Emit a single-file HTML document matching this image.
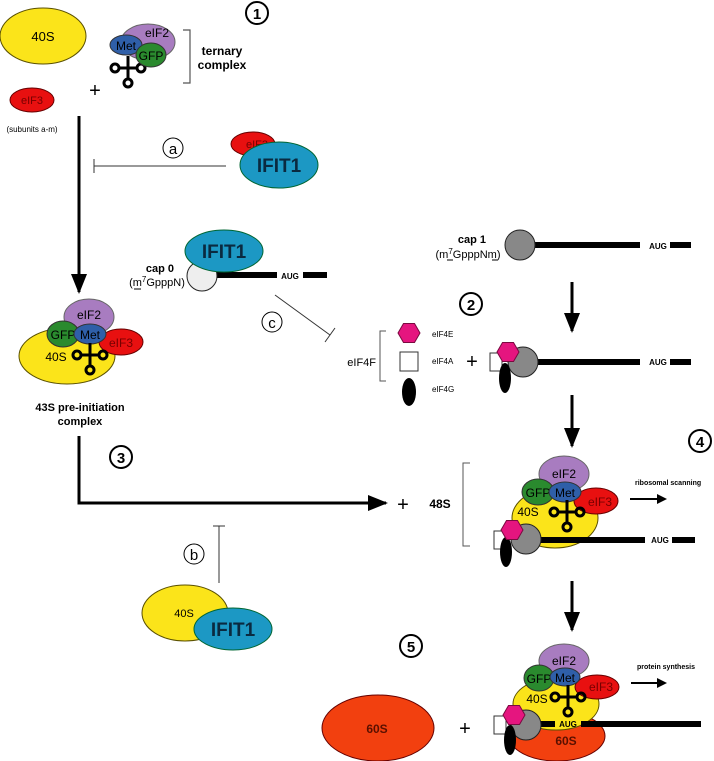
<!DOCTYPE html>
<html><head><meta charset="utf-8"><style>
html,body{margin:0;padding:0;background:#fff}
svg{display:block;font-family:"Liberation Sans",sans-serif}
.b{font-weight:bold}
</style></head><body>
<svg width="714" height="761" viewBox="0 0 714 761" xmlns="http://www.w3.org/2000/svg">
<defs>
<g id="trna" fill="none" stroke="#000" stroke-width="3">
<line x1="0" y1="-12" x2="0" y2="12"/>
<line x1="-10" y1="0" x2="10" y2="0"/>
<circle cx="-13" cy="0" r="4"/>
<circle cx="13" cy="0" r="4"/>
<circle cx="0" cy="15" r="4"/>
</g>
<g id="hex"><polygon points="-11,0 -5.5,-9.5 5.5,-9.5 11,0 5.5,9.5 -5.5,9.5" fill="#e5157f" stroke="#7a0a40" stroke-width="1"/></g>
<marker id="ah" markerWidth="10" markerHeight="10" refX="8" refY="5" orient="auto" markerUnits="userSpaceOnUse"><path d="M0,0 L10,5 L0,10 Z" fill="#000"/></marker>
<marker id="ahL" markerWidth="20" markerHeight="16" refX="18" refY="8" orient="auto" markerUnits="userSpaceOnUse"><path d="M0,0 L20,8 L0,16 Z" fill="#000"/></marker>
</defs>

<!-- Step 1 -->
<ellipse cx="43" cy="36" rx="43" ry="28" fill="#fbe41a" stroke="#5a5000"/>
<text x="43" y="41" font-size="13" text-anchor="middle">40S</text>
<ellipse cx="148" cy="42" rx="27" ry="18" fill="#a87cc0" stroke="#666"/>
<text x="157" y="37" font-size="12" text-anchor="middle">eIF2</text>
<use href="#trna" x="128" y="68"/>
<ellipse cx="126" cy="45" rx="16" ry="10" fill="#2f5fa8" stroke="#333"/>
<text x="126" y="50" font-size="12" text-anchor="middle">Met</text>
<ellipse cx="151" cy="55" rx="15" ry="12" fill="#2a8a2e" stroke="#333"/>
<text x="151" y="60" font-size="12" text-anchor="middle">GFP</text>
<path d="M183,30 H190 V83 H183" fill="none" stroke="#555" stroke-width="1.2"/>
<text x="222" y="55" font-size="12" class="b" text-anchor="middle">ternary</text>
<text x="222" y="69" font-size="12" class="b" text-anchor="middle">complex</text>
<circle cx="257" cy="13" r="11" fill="#fff" stroke="#000" stroke-width="2"/>
<text x="257" y="19" font-size="15" class="b" text-anchor="middle">1</text>
<text x="95" y="97" font-size="20" text-anchor="middle">+</text>
<ellipse cx="32" cy="100" rx="22" ry="12" fill="#e81010" stroke="#600"/>
<text x="32" y="104" font-size="11" text-anchor="middle" fill="#700">eIF3</text>
<text x="32" y="132" font-size="8" text-anchor="middle">(subunits a-m)</text>
<line x1="79" y1="116" x2="79" y2="292" stroke="#000" stroke-width="3" marker-end="url(#ahL)"/>

<!-- a -->
<line x1="226" y1="166" x2="94" y2="166" stroke="#333" stroke-width="1"/>
<line x1="94" y1="159" x2="94" y2="173" stroke="#333" stroke-width="1"/>
<circle cx="173" cy="148" r="10" fill="#fff" stroke="#000"/>
<text x="173" y="154" font-size="15" text-anchor="middle">a</text>
<ellipse cx="253" cy="144" rx="22" ry="12" fill="#e81010" stroke="#600"/>
<text x="257" y="148" font-size="11" text-anchor="middle" fill="#700">eIF3</text>
<ellipse cx="279" cy="165" rx="39" ry="23" fill="#1c98c4" stroke="#063"/>
<text x="279" y="172" font-size="19" class="b" text-anchor="middle" fill="#0a2a40">IFIT1</text>

<!-- IFIT1 cap 0 -->
<rect x="212" y="272" width="65" height="6" fill="#000"/>
<circle cx="202" cy="276" r="15" fill="#eee" stroke="#222"/>
<ellipse cx="224" cy="251" rx="39" ry="21" fill="#1c98c4" stroke="#063"/>
<text x="224" y="258" font-size="19" class="b" text-anchor="middle" fill="#0a2a40">IFIT1</text>
<text x="290" y="279" font-size="8" class="b" text-anchor="middle">AUG</text>
<rect x="303" y="272" width="24" height="6" fill="#000"/>
<text x="160" y="272" font-size="11" class="b" text-anchor="middle">cap 0</text>
<text x="157" y="286" font-size="11" text-anchor="middle">(m<tspan dy="-4" font-size="8">7</tspan><tspan dy="4">GpppN)</tspan></text>
<line x1="134" y1="289" x2="141" y2="289" stroke="#000"/>
<line x1="275" y1="295" x2="330" y2="335" stroke="#333"/>
<line x1="325" y1="342" x2="335" y2="328" stroke="#333"/>
<circle cx="272" cy="322" r="10" fill="#fff" stroke="#000"/>
<text x="272" y="328" font-size="15" text-anchor="middle">c</text>

<!-- 43S -->
<ellipse cx="67" cy="356" rx="48" ry="28" fill="#fbe41a" stroke="#5a5000"/>
<ellipse cx="89" cy="317" rx="25" ry="18" fill="#a87cc0" stroke="#666"/>
<text x="89" y="319" font-size="12" text-anchor="middle">eIF2</text>
<ellipse cx="63" cy="334" rx="16" ry="13" fill="#2a8a2e" stroke="#333"/>
<text x="63" y="339" font-size="12" text-anchor="middle">GFP</text>
<ellipse cx="121" cy="342" rx="22" ry="13" fill="#e81010" stroke="#600"/>
<text x="121" y="347" font-size="12" text-anchor="middle" fill="#700">eIF3</text>
<ellipse cx="90" cy="334" rx="16" ry="10" fill="#2f5fa8" stroke="#333"/>
<text x="90" y="339" font-size="12" text-anchor="middle">Met</text>
<use href="#trna" x="90" y="355"/>
<text x="56" y="361" font-size="12" text-anchor="middle">40S</text>
<text x="80" y="411" font-size="11" class="b" text-anchor="middle">43S pre-initiation</text>
<text x="80" y="425" font-size="11" class="b" text-anchor="middle">complex</text>

<!-- 3 -->
<circle cx="121" cy="457" r="11" fill="#fff" stroke="#000" stroke-width="2"/>
<text x="121" y="463" font-size="15" class="b" text-anchor="middle">3</text>
<path d="M79,436 V503 H386" fill="none" stroke="#000" stroke-width="3" marker-end="url(#ahL)"/>

<!-- b -->
<line x1="219" y1="526" x2="219" y2="583" stroke="#333"/>
<line x1="213" y1="526" x2="225" y2="526" stroke="#333"/>
<circle cx="194" cy="554" r="10" fill="#fff" stroke="#000"/>
<text x="194" y="560" font-size="15" text-anchor="middle">b</text>
<ellipse cx="185" cy="613" rx="43" ry="28" fill="#fbe41a" stroke="#5a5000"/>
<text x="184" y="617" font-size="11" text-anchor="middle">40S</text>
<ellipse cx="233" cy="629" rx="39" ry="21" fill="#1c98c4" stroke="#063"/>
<text x="233" y="636" font-size="19" class="b" text-anchor="middle" fill="#0a2a40">IFIT1</text>

<!-- cap 1 -->
<text x="472" y="243" font-size="11" class="b" text-anchor="middle">cap 1</text>
<text x="468" y="258" font-size="11" text-anchor="middle">(m<tspan dy="-4" font-size="8">7</tspan><tspan dy="4">GpppNm)</tspan></text>
<line x1="447" y1="260" x2="453" y2="260" stroke="#000"/>
<line x1="492" y1="260" x2="498" y2="260" stroke="#000"/>
<rect x="533" y="242" width="107" height="6" fill="#000"/>
<circle cx="520" cy="245" r="15" fill="#888" stroke="#222"/>
<text x="658" y="249" font-size="8" class="b" text-anchor="middle">AUG</text>
<rect x="670" y="242" width="21" height="6" fill="#000"/>
<line x1="572" y1="282" x2="572" y2="331" stroke="#000" stroke-width="3" marker-end="url(#ahL)"/>
<circle cx="471" cy="304" r="11" fill="#fff" stroke="#000" stroke-width="2"/>
<text x="471" y="310" font-size="15" class="b" text-anchor="middle">2</text>

<!-- eIF4F -->
<text x="376" y="366" font-size="11" text-anchor="end">eIF4F</text>
<path d="M386,331 H380 V381 H386" fill="none" stroke="#555"/>
<use href="#hex" x="409" y="333"/>
<rect x="400" y="352" width="18" height="19" fill="#fff" stroke="#333"/>
<ellipse cx="409" cy="392" rx="7" ry="14" fill="#000"/>
<text x="432" y="337" font-size="8">eIF4E</text>
<text x="432" y="364" font-size="8">eIF4A</text>
<text x="432" y="392" font-size="8">eIF4G</text>
<text x="472" y="368" font-size="20" text-anchor="middle">+</text>
<rect x="535" y="359" width="105" height="6" fill="#000"/>
<rect x="490" y="353" width="12" height="18" fill="#fff" stroke="#333"/>
<circle cx="523" cy="362" r="15" fill="#888" stroke="#222"/>
<ellipse cx="505" cy="378" rx="6" ry="15" fill="#000"/>
<use href="#hex" x="508" y="352"/>
<text x="658" y="365" font-size="8" class="b" text-anchor="middle">AUG</text>
<rect x="670" y="359" width="21" height="6" fill="#000"/>
<line x1="572" y1="395" x2="572" y2="446" stroke="#000" stroke-width="3" marker-end="url(#ahL)"/>
<circle cx="700" cy="441" r="11" fill="#fff" stroke="#000" stroke-width="2"/>
<text x="700" y="447" font-size="15" class="b" text-anchor="middle">4</text>

<!-- 48S -->
<text x="403" y="511" font-size="20" text-anchor="middle">+</text>
<text x="440" y="508" font-size="12" class="b" text-anchor="middle">48S</text>
<path d="M470,463 H463 V546 H470" fill="none" stroke="#555"/>
<ellipse cx="555" cy="518" rx="43" ry="30" fill="#fbe41a" stroke="#5a5000"/>
<ellipse cx="564" cy="474" rx="25" ry="18" fill="#a87cc0" stroke="#666"/>
<text x="564" y="478" font-size="12" text-anchor="middle">eIF2</text>
<ellipse cx="538" cy="492" rx="16" ry="13" fill="#2a8a2e" stroke="#333"/>
<text x="538" y="497" font-size="12" text-anchor="middle">GFP</text>
<ellipse cx="596" cy="501" rx="22" ry="13" fill="#e81010" stroke="#600"/>
<text x="600" y="506" font-size="12" text-anchor="middle" fill="#700">eIF3</text>
<ellipse cx="565" cy="492" rx="16" ry="10" fill="#2f5fa8" stroke="#333"/>
<text x="565" y="497" font-size="12" text-anchor="middle">Met</text>
<use href="#trna" x="567" y="512"/>
<text x="528" y="516" font-size="12" text-anchor="middle">40S</text>
<rect x="538" y="537" width="107" height="6" fill="#000"/>
<rect x="494" y="531" width="12" height="18" fill="#fff" stroke="#333"/>
<circle cx="526" cy="539" r="15" fill="#888" stroke="#222"/>
<ellipse cx="506" cy="552" rx="6" ry="15" fill="#000"/>
<use href="#hex" x="512" y="530"/>
<text x="660" y="543" font-size="8" class="b" text-anchor="middle">AUG</text>
<rect x="672" y="537" width="23" height="6" fill="#000"/>
<text x="635" y="485" font-size="7" class="b">ribosomal scanning</text>
<line x1="630" y1="499" x2="665" y2="499" stroke="#000" stroke-width="2" marker-end="url(#ah)"/>
<line x1="572" y1="581" x2="572" y2="630" stroke="#000" stroke-width="3" marker-end="url(#ahL)"/>

<!-- 5 -->
<circle cx="411" cy="646" r="11" fill="#fff" stroke="#000" stroke-width="2"/>
<text x="411" y="652" font-size="15" class="b" text-anchor="middle">5</text>
<ellipse cx="378" cy="728" rx="56" ry="33" fill="#f2400f" stroke="#600"/>
<text x="377" y="733" font-size="12" class="b" text-anchor="middle" fill="#5a1000">60S</text>
<text x="465" y="735" font-size="20" text-anchor="middle">+</text>
<ellipse cx="557" cy="736" rx="48" ry="25" fill="#f2400f" stroke="#600"/>
<ellipse cx="556" cy="704" rx="43" ry="26" fill="#fbe41a" stroke="#5a5000"/>
<ellipse cx="564" cy="661" rx="25" ry="17" fill="#a87cc0" stroke="#666"/>
<text x="564" y="665" font-size="12" text-anchor="middle">eIF2</text>
<ellipse cx="539" cy="678" rx="15" ry="13" fill="#2a8a2e" stroke="#333"/>
<text x="539" y="683" font-size="12" text-anchor="middle">GFP</text>
<ellipse cx="597" cy="687" rx="22" ry="12" fill="#e81010" stroke="#600"/>
<text x="601" y="691" font-size="12" text-anchor="middle" fill="#700">eIF3</text>
<ellipse cx="565" cy="677" rx="15" ry="9" fill="#2f5fa8" stroke="#333"/>
<text x="565" y="682" font-size="12" text-anchor="middle">Met</text>
<use href="#trna" x="568" y="697"/>
<text x="537" y="703" font-size="12" text-anchor="middle">40S</text>
<rect x="536" y="721" width="19" height="6" fill="#000"/>
<rect x="581" y="721" width="120" height="6" fill="#000"/>
<text x="568" y="727" font-size="8" class="b" text-anchor="middle">AUG</text>
<rect x="494" y="716" width="12" height="18" fill="#fff" stroke="#333"/>
<circle cx="526" cy="725" r="15" fill="#888" stroke="#222"/>
<ellipse cx="510" cy="740" rx="6" ry="15" fill="#000"/>
<use href="#hex" x="514" y="715"/>
<text x="566" y="745" font-size="12" class="b" text-anchor="middle" fill="#5a1000">60S</text>
<text x="637" y="669" font-size="7" class="b">protein synthesis</text>
<line x1="631" y1="683" x2="665" y2="683" stroke="#000" stroke-width="2" marker-end="url(#ah)"/>
</svg>
</body></html>
